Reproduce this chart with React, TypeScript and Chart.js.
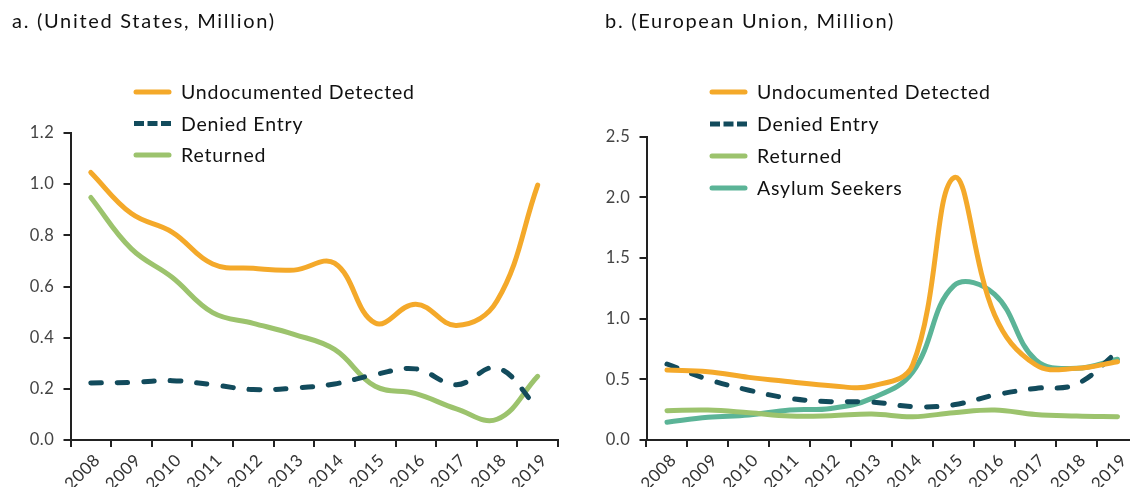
import React, { useEffect, useRef } from "react";
import { Chart, registerables } from "chart.js";

Chart.register(...registerables);

const years = ["2008", "2009", "2010", "2011", "2012", "2013", "2014", "2015", "2016", "2017", "2018", "2019"];

// Panel a: United States (million)
const usUndocumented = [1.046, 0.885, 0.813, 0.688, 0.671, 0.664, 0.691, 0.457, 0.531, 0.448, 0.544, 0.996];
const usDenied = [0.223, 0.225, 0.232, 0.216, 0.197, 0.203, 0.219, 0.256, 0.278, 0.216, 0.282, 0.125];
const usReturned = [0.948, 0.747, 0.636, 0.498, 0.456, 0.413, 0.354, 0.21, 0.181, 0.122, 0.081, 0.249];
const usTickValues = [0, 0.2, 0.4, 0.6, 0.8, 1.0, 1.2];

// Panel b: European Union (million)
const euUndocumented = [0.577, 0.563, 0.516, 0.48, 0.447, 0.445, 0.62, 2.16, 1.03, 0.62, 0.59, 0.645];
const euDenied = [0.626, 0.5, 0.41, 0.343, 0.316, 0.313, 0.275, 0.29, 0.37, 0.425, 0.46, 0.727];
const euReturned = [0.241, 0.247, 0.225, 0.198, 0.2, 0.214, 0.192, 0.225, 0.247, 0.21, 0.198, 0.192];
const euAsylum = [0.146, 0.187, 0.206, 0.247, 0.26, 0.343, 0.56, 1.27, 1.2, 0.66, 0.59, 0.665];
const euTickValues = [0, 0.5, 1.0, 1.5, 2.0, 2.5];

const seriesNames = ["Undocumented Detected", "Denied Entry", "Returned", "Asylum Seekers"];

const ORANGE = "#F4A92A";
const NAVY = "#124B5C";
const GREEN = "#9CC36D";
const TEAL = "#5BB497";
const FONT = "Lato, 'Open Sans', sans-serif";

const overlayPlugin = {
  id: "overlay",
  beforeDraw(chart: any) {
    (chart.ctx as any).letterSpacing = "0.6px";
  },
  afterDraw(chart: any, _args: any, opts: any) {
    const ctx = chart.ctx as any;
    ctx.save();
    ctx.fillStyle = "#111";
    ctx.textBaseline = "middle";
    ctx.textAlign = "left";
    ctx.font = `20px ${FONT}`;
    ctx.letterSpacing = "1.7px";
    ctx.fillText(opts.title, opts.titleX, 22);
    ctx.letterSpacing = "0.8px";
    chart.data.datasets.forEach((ds: any, i: number) => {
      const y = opts.legendY + i * opts.legendGap;
      ctx.beginPath();
      ctx.strokeStyle = ds.borderColor;
      ctx.lineWidth = 5;
      if (ds.borderDash && ds.borderDash.length) {
        ctx.lineCap = "butt";
        ctx.setLineDash([10, 3.5]);
        ctx.moveTo(opts.legendX, y);
        ctx.lineTo(opts.legendX + 37, y);
      } else {
        ctx.lineCap = "round";
        ctx.setLineDash([]);
        ctx.moveTo(opts.legendX + 2, y);
        ctx.lineTo(opts.legendX + 35, y);
      }
      ctx.stroke();
      ctx.setLineDash([]);
      ctx.fillStyle = "#111";
      ctx.font = `19.5px ${FONT}`;
      ctx.fillText(ds.label, opts.legendX + 47, y + 1);
    });
    ctx.restore();
  },
};

function makeDataset(label: string, data: number[], color: string, dashed: boolean) {
  return {
    label,
    data,
    borderColor: color,
    backgroundColor: color,
    borderWidth: 5,
    borderDash: dashed ? [10.5, 16] : [],
    borderCapStyle: "round",
    borderJoinStyle: "round",
    pointRadius: 0,
    tension: 0.4,
    fill: false,
  };
}

function makeOptions(max: number, step: number, ticks: number[], axisWidth: number, padTop: number, padRight: number, overlay: any) {
  return {
    animation: false,
    responsive: false,
    maintainAspectRatio: false,
    layout: { padding: { left: 0, top: padTop, right: padRight, bottom: 0 } },
    plugins: {
      legend: { display: false },
      tooltip: { enabled: false },
      title: { display: false },
      overlay,
    },
    scales: {
      x: {
        type: "category",
        offset: true,
        grid: { offset: true, drawOnChartArea: false, drawTicks: true, tickLength: 7, color: "#222", lineWidth: 2 },
        border: { display: true, color: "#222", width: 2 },
        ticks: {
          autoSkip: false,
          minRotation: 45,
          maxRotation: 45,
          padding: 3,
          labelOffset: 6.5,
          color: "#333",
          font: { family: FONT, size: 17 },
        },
        afterFit: (s: any) => {
          s.height = 47;
        },
      },
      y: {
        min: 0,
        max,
        afterBuildTicks: (s: any) => {
          s.ticks = ticks.map((v) => ({ value: v }));
        },
        grid: { drawOnChartArea: false, drawTicks: true, tickLength: 7, color: "#222", lineWidth: 2 },
        border: { display: true, color: "#222", width: 2 },
        ticks: {
          stepSize: step,
          padding: 9,
          color: "#444",
          font: { family: FONT, size: 16.5 },
          callback: (v: any) => Number(v).toFixed(1),
        },
        afterFit: (s: any) => {
          s.width = axisWidth;
        },
      },
    },
  };
}

export default function App() {
  const leftRef = useRef<HTMLCanvasElement | null>(null);
  const rightRef = useRef<HTMLCanvasElement | null>(null);

  useEffect(() => {
    const left = new Chart(leftRef.current as HTMLCanvasElement, {
      type: "line",
      data: {
        labels: years,
        datasets: [
          makeDataset(seriesNames[0], usUndocumented, ORANGE, false),
          makeDataset(seriesNames[1], usDenied, NAVY, true),
          makeDataset(seriesNames[2], usReturned, GREEN, false),
        ],
      },
      options: makeOptions(1.2, 0.2, usTickValues, 70.5, 133, 7, {
        title: "a. (United States, Million)",
        titleX: 12,
        legendX: 134,
        legendY: 92,
        legendGap: 31.5,
      }) as any,
      plugins: [overlayPlugin],
    } as any);

    const right = new Chart(rightRef.current as HTMLCanvasElement, {
      type: "line",
      data: {
        labels: years,
        datasets: [
          makeDataset(seriesNames[0], euUndocumented, ORANGE, false),
          makeDataset(seriesNames[1], euDenied, NAVY, true),
          makeDataset(seriesNames[2], euReturned, GREEN, false),
          makeDataset(seriesNames[3], euAsylum, TEAL, false),
        ],
      },
      options: makeOptions(2.5, 0.5, euTickValues, 81.5, 136.5, 7, {
        title: "b. (European Union, Million)",
        titleX: 40,
        legendX: 145,
        legendY: 92,
        legendGap: 32,
      }) as any,
      plugins: [overlayPlugin],
    } as any);

    return () => {
      left.destroy();
      right.destroy();
    };
  }, []);

  return (
    <div
      style={{
        position: "absolute",
        left: 0,
        top: 0,
        width: 1130,
        height: 487,
        overflow: "hidden",
        background: "#fff",
      }}
    >
      <canvas ref={leftRef} width={565} height={487} style={{ position: "absolute", left: 0, top: 0, display: "block" }} />
      <canvas ref={rightRef} width={580} height={487} style={{ position: "absolute", left: 565, top: 0, display: "block" }} />
    </div>
  );
}
